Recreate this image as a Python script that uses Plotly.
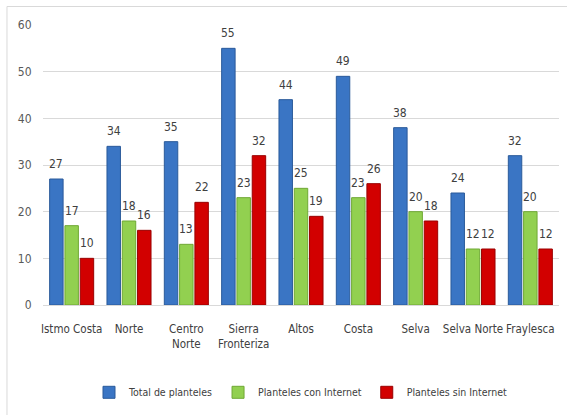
import plotly.graph_objects as go

categories = ["Istmo Costa", "Norte", "Centro<br>Norte", "Sierra<br>Fronteriza", "Altos",
              "Costa", "Selva", "Selva Norte", "Fraylesca"]
total = [27, 34, 35, 55, 44, 49, 38, 24, 32]
con_internet = [17, 18, 13, 23, 25, 23, 20, 12, 20]
sin_internet = [10, 16, 22, 32, 19, 26, 18, 12, 12]
y_ticks = [0, 10, 20, 30, 40, 50, 60]

FONT = "DejaVu Sans Condensed, Liberation Sans Narrow, Arial Narrow, sans-serif"
BARGAP = 0.2

series = [
    ("Total de planteles", total, "#3A75C4", "#2A5A9A"),
    ("Planteles con Internet", con_internet, "#92D050", "#6FA834"),
    ("Planteles sin Internet", sin_internet, "#D20000", "#9A0000"),
]

fig = go.Figure()
annotations = []
n = len(series)
slot = (1 - BARGAP) / n
for k, (name, vals, col, edge) in enumerate(series):
    fig.add_trace(go.Bar(
        name=name, x=categories, y=vals,
        marker=dict(color=col, line=dict(color=edge, width=1)),
    ))
    off = (k - (n - 1) / 2) * slot
    for i, v in enumerate(vals):
        annotations.append(dict(
            x=i + off, y=v, xref="x", yref="y", text=str(v), showarrow=False,
            yanchor="bottom", yshift=6,
            font=dict(family=FONT, size=12, color="#404040"),
        ))

fig.update_layout(
    width=567, height=415,
    margin=dict(l=43, r=8, t=25, b=110),
    paper_bgcolor="white", plot_bgcolor="white",
    barmode="group", bargap=BARGAP, bargroupgap=0.12,
    showlegend=True,
    legend=dict(orientation="h", x=0.5, xanchor="center", y=-0.26, yanchor="top",
                font=dict(family=FONT, size=10.5, color="#404040"),
                itemwidth=30, traceorder="normal"),
    xaxis=dict(tickfont=dict(family=FONT, size=11.5, color="#404040"), tickangle=0,
               showline=True, linecolor="#D9D9D9", linewidth=1, ticks="outside",
               ticklen=13, tickcolor="white", showgrid=False),
    yaxis=dict(range=[0, 60], tickvals=y_ticks, showgrid=True, gridcolor="#D9D9D9",
               gridwidth=1, zeroline=False, showline=False, ticks="outside",
               ticklen=8, tickcolor="white",
               tickfont=dict(family=FONT, size=12, color="#595959")),
    annotations=annotations,
    shapes=[
        dict(type="line", xref="paper", yref="paper", x0=-0.0698, x1=1.02, y0=1.066, y1=1.066,
             line=dict(color="#D9D9D9", width=1)),
        dict(type="line", xref="paper", yref="paper", x0=-0.0698, x1=-0.0698, y0=1.066, y1=-0.4,
             line=dict(color="#D9D9D9", width=1)),
    ],
)

fig.write_html("out.html")
